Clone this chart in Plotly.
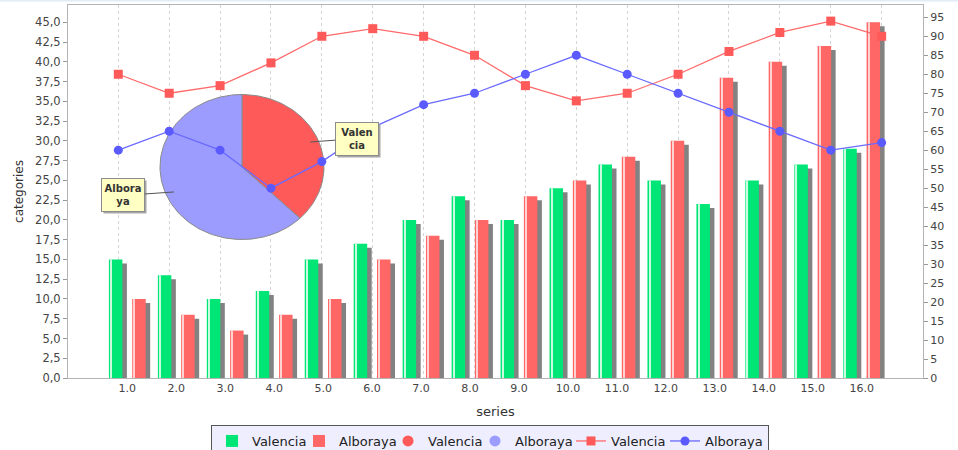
import numpy as np
import plotly.graph_objects as go

# ---------------------------------------------------------------- data
categories = list(range(1, 17))
category_labels = ["1.0", "2.0", "3.0", "4.0", "5.0", "6.0", "7.0", "8.0",
                   "9.0", "10.0", "11.0", "12.0", "13.0", "14.0", "15.0", "16.0"]

valencia_bars = [15, 13, 10, 11, 15, 17, 20, 23, 20, 24, 27, 25, 22, 25, 27, 29]
alboraya_bars = [10, 8, 6, 8, 10, 15, 18, 20, 23, 25, 28, 30, 38, 40, 42, 45]

valencia_line = [80, 75, 77, 83, 90, 92, 90, 85, 77, 73, 75, 80, 86, 91, 94, 90]
alboraya_line = [60, 65, 60, 50, 57, 66, 72, 75, 80, 85, 80, 75, 70, 65, 60, 62]

pie_labels = ["Valencia", "Alboraya"]
pie_values = [30, 50]

# ---------------------------------------------------------------- geometry (px)
W, H = 958, 450
M_L, M_R, M_T, M_B = 68, 35, 5, 72
PLOT_W = W - M_L - M_R
PLOT_H = H - M_T - M_B

# bar category axis
CAT_FIRST_PX, CAT_STEP_PX = 59.3, 48.96
x_range = [1 - CAT_FIRST_PX / CAT_STEP_PX, 1 + (PLOT_W - CAT_FIRST_PX) / CAT_STEP_PX]
# line category axis
LINE_FIRST_PX, LINE_STEP_PX = 50.3, 50.89
x3_range = [1 - LINE_FIRST_PX / LINE_STEP_PX, 1 + (PLOT_W - LINE_FIRST_PX) / LINE_STEP_PX]

Y_LEFT_MAX = 47.19
Y_RIGHT_MAX = 98.24

BAR_W_PX = 13.5
SHADOW_DX_PX, SHADOW_DY_PX = 4.5, 4.0
px_x = 1.0 / CAT_STEP_PX
px_y = Y_LEFT_MAX / PLOT_H

# pie box: centre and radii, px relative to plot area
PIE_CX, PIE_CY = 174.0, 211.0   # from left / from bottom
PIE_RX, PIE_RY = 82.0, 72.5
x2_range = [-PIE_CX / PIE_RX, (PLOT_W - PIE_CX) / PIE_RX]
y2_range = [-PIE_CY / PIE_RY, (PLOT_H - PIE_CY) / PIE_RY]

GREEN = "#00E676"
RED_BAR = "#FF6666"
SHADOW = "#828282"
PIE_RED = "#FF5A5A"
PIE_BLUE = "#9C9CFF"
LINE_RED = "#FF6A6A"
LINE_BLUE = "#6A6AFF"
AXIS_LINE = "#B4B4B4"
TICK_FONT = dict(family="DejaVu Sans", size=11, color="#444444")

# compact legend entry widths (px of text slot per entry)
LEGEND_SLOTS = {"bar_v": 42, "bar_a": 44, "pie_v": 42, "pie_a": 51, "line_v": 49}

fig = go.Figure()

# ---------------------------------------------------------------- bars with drop shadows
bar_series = [
    ("Valencia", valencia_bars, GREEN, "#C9FBE0", -18.4, LEGEND_SLOTS["bar_v"]),
    ("Alboraya", alboraya_bars, RED_BAR, "#FFD2D2", 4.9, LEGEND_SLOTS["bar_a"]),
]
for name, vals, color, stripe, left_px, slot in bar_series:
    fig.add_trace(go.Bar(
        x=categories, y=[v - SHADOW_DY_PX * px_y for v in vals],
        offset=(left_px + SHADOW_DX_PX) * px_x, width=BAR_W_PX * px_x,
        marker=dict(color=SHADOW, line=dict(width=0)),
        showlegend=False, hoverinfo="skip"))
    fig.add_trace(go.Bar(
        x=categories, y=vals, name=name, legendwidth=slot,
        offset=left_px * px_x, width=BAR_W_PX * px_x,
        marker=dict(color=color, line=dict(width=0))))
    fig.add_trace(go.Bar(
        x=categories, y=vals,
        offset=(left_px + 1.6) * px_x, width=1.1 * px_x,
        marker=dict(color=stripe, line=dict(width=0)),
        showlegend=False, hoverinfo="skip"))

# ---------------------------------------------------------------- pie (elliptical, on its own overlay axes)
pie_colors = [PIE_RED, PIE_BLUE]
fracs = np.array(pie_values, dtype=float) / float(sum(pie_values))
start = 0.0
label_tips = []
for label, frac, color in zip(pie_labels, fracs, pie_colors):
    t = np.linspace(start, start + frac, 120)
    theta = np.pi / 2 - 2 * np.pi * t          # clockwise from 12 o'clock
    xs = np.concatenate([[0.0], np.cos(theta), [0.0]])
    ys = np.concatenate([[0.0], np.sin(theta), [0.0]])
    fig.add_trace(go.Scatter(
        x=xs, y=ys, xaxis="x2", yaxis="y2", mode="lines",
        fill="toself", fillcolor=color,
        line=dict(color="#8A8A8A", width=1),
        showlegend=False, hoverinfo="skip", name=label))
    mid = np.pi / 2 - 2 * np.pi * (start + frac / 2)
    label_tips.append((0.9 * np.cos(mid), 0.9 * np.sin(mid)))
    start += frac

# legend entries for the pie sections
for label, color, slot in zip(pie_labels, pie_colors, [LEGEND_SLOTS["pie_v"], LEGEND_SLOTS["pie_a"]]):
    fig.add_trace(go.Scatter(
        x=[None], y=[None], mode="markers", name=label, legendwidth=slot,
        marker=dict(symbol="circle", size=11, color=color)))

# ---------------------------------------------------------------- lines on the right axis
fig.add_trace(go.Scatter(
    x=categories, y=valencia_line, xaxis="x3", yaxis="y3",
    mode="lines+markers", name="Valencia", legendwidth=LEGEND_SLOTS["line_v"],
    line=dict(color=LINE_RED, width=1.3),
    marker=dict(symbol="square", size=9, color="#FF5A5A")))
fig.add_trace(go.Scatter(
    x=categories, y=alboraya_line, xaxis="x3", yaxis="y3",
    mode="lines+markers", name="Alboraya",
    line=dict(color=LINE_BLUE, width=1.3),
    marker=dict(symbol="circle", size=9, color="#5A5AFF")))

# ---------------------------------------------------------------- pie section labels
label_texts = ["Valen<br>cia", "Albora<br>ya"]
label_offsets = [(46.5, -3.5), (-50.5, 3.5)]
annotations = []
for (tx, ty), text, (ax, ay) in zip(label_tips, label_texts, label_offsets):
    common = dict(x=tx, y=ty, xref="x2", yref="y2", ax=ax, ay=ay,
                  axref="pixel", ayref="pixel",
                  width=40, height=30, borderpad=1, align="center",
                  showarrow=True, arrowhead=0)
    # drop shadow behind the label box
    annotations.append(dict(common, text=" ", xshift=2, yshift=-2, bgcolor="#A8A8A8",
                            font=dict(family="DejaVu Sans", size=10),
                            arrowcolor="rgba(0,0,0,0)", arrowwidth=1))
    annotations.append(dict(common, text=text, bgcolor="#FFFFC4", bordercolor="#8C8C8C",
                            borderwidth=1,
                            font=dict(family="DejaVu Sans", size=10, color="#333333", weight="bold"),
                            arrowcolor="#555555", arrowwidth=1))

fig.update_layout(
    width=W, height=H,
    margin=dict(l=M_L, r=M_R, t=M_T, b=M_B, pad=0, autoexpand=False),
    paper_bgcolor="white", plot_bgcolor="white",
    font=dict(family="DejaVu Sans", color="#333333"),
    separators=",.",
    barmode="overlay",
    showlegend=True,
    legend=dict(orientation="h", x=(490 - M_L) / PLOT_W, xanchor="center",
                y=-(425 - (H - M_B)) / PLOT_H, yanchor="top",
                bgcolor="#EEEEFF", bordercolor="#555555", borderwidth=1,
                font=dict(size=13, color="#222222"),
                itemwidth=30, tracegroupgap=0),
    xaxis=dict(range=x_range, tickmode="array", tickvals=categories, ticktext=category_labels,
               showgrid=False, zeroline=False, showline=True, linecolor=AXIS_LINE,
               linewidth=1, mirror=True, ticks="", tickfont=TICK_FONT,
               title=dict(text="series", font=dict(size=13, color="#333333"), standoff=12)),
    yaxis=dict(range=[0, Y_LEFT_MAX], tickmode="linear", tick0=0, dtick=2.5,
               tickformat=".1f", showgrid=False, zeroline=False,
               showline=True, linecolor=AXIS_LINE, linewidth=1,
               ticks="outside", ticklen=4, tickcolor="#999999",
               tickfont=dict(TICK_FONT, size=11.5),
               title=dict(text="categories", font=dict(size=12, color="#333333"), standoff=8)),
    xaxis2=dict(overlaying="x", range=x2_range, visible=False),
    yaxis2=dict(overlaying="y", range=y2_range, visible=False),
    xaxis3=dict(overlaying="x", range=x3_range, tickmode="linear", tick0=1, dtick=1,
                showgrid=True, gridcolor="#D4D4D4", griddash="dot", gridwidth=1,
                showticklabels=False, ticks="", showline=False, zeroline=False),
    yaxis3=dict(overlaying="y", side="right", range=[0, Y_RIGHT_MAX],
                tickmode="linear", tick0=0, dtick=5, tickformat="d",
                showgrid=False, zeroline=False, showline=True, linecolor=AXIS_LINE,
                linewidth=1, ticks="outside", ticklen=4, tickcolor="#999999",
                tickfont=TICK_FONT),
    annotations=annotations,
    shapes=[dict(type="rect", xref="paper", yref="paper",
                 x0=-M_L / PLOT_W, x1=1 + M_R / PLOT_W,
                 y0=1 + 3.5 / PLOT_H, y1=1 + M_T / PLOT_H,
                 fillcolor="#E2ECF8", line=dict(width=0), layer="below")],
)

fig.write_html("out.html")
